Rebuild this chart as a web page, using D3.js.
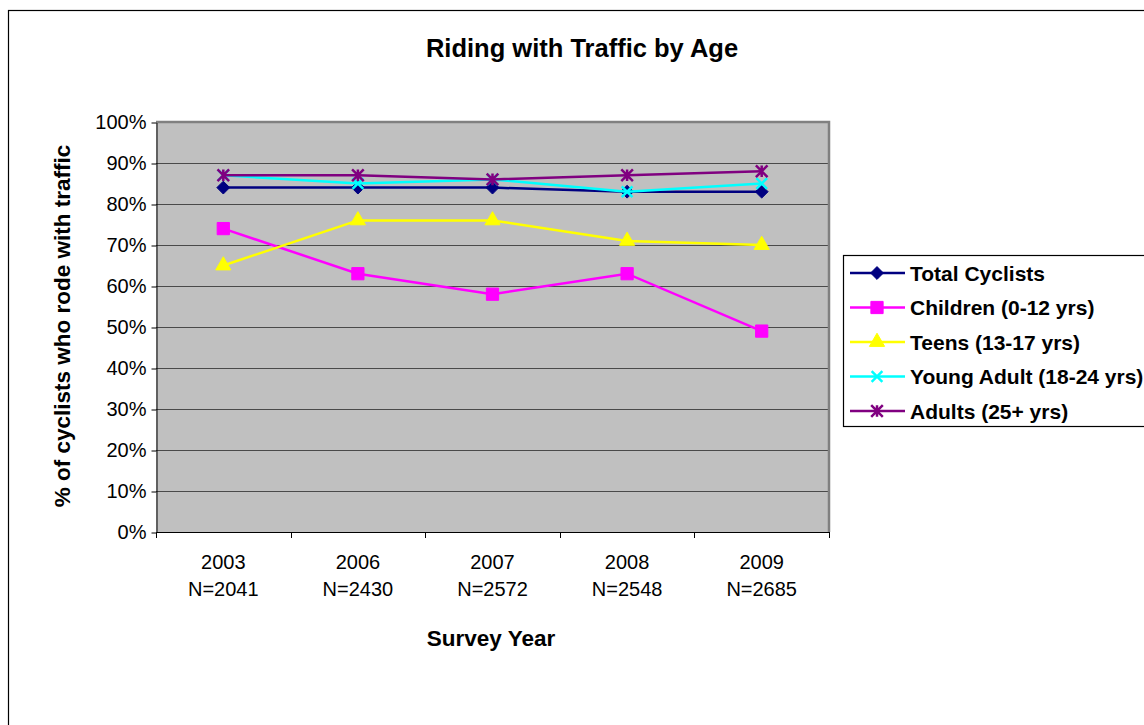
<!DOCTYPE html>
<html>
<head>
<meta charset="utf-8">
<script src="https://cdn.jsdelivr.net/npm/d3@7"></script>
<style>
  html, body { margin: 0; padding: 0; background: #fff; }
  svg { display: block; font-family: "Liberation Sans", Arial, sans-serif; }
</style>
</head>
<body>
<svg id="chart" width="1144" height="725"></svg>
<script>
// Survey years and sample sizes (x categories)
const years = ["2003", "2006", "2007", "2008", "2009"];
const sampleSizes = ["N=2041", "N=2430", "N=2572", "N=2548", "N=2685"];

// Share of cyclists riding with traffic, per group (percent)
const totalCyclists = [84, 84, 84, 83, 83];
const children = [74, 63, 58, 63, 49];
const teens = [65, 76, 76, 71, 70];
const youngAdults = [87, 85, 86, 83, 85];
const adults = [87, 87, 86, 87, 88];

// Y-axis ticks (percent)
const yTicks = [0, 10, 20, 30, 40, 50, 60, 70, 80, 90, 100];

const seriesNames = ["Total Cyclists", "Children (0-12 yrs)", "Teens (13-17 yrs)", "Young Adult (18-24 yrs)", "Adults (25+ yrs)"];
const seriesColors = ["#000080", "#FF00FF", "#FFFF00", "#00FFFF", "#800080"];
const seriesValues = [totalCyclists, children, teens, youngAdults, adults];

// Excel-style "star" marker: an X crossed by a vertical stroke
const symbolStar = {
  draw(ctx, size) {
    const r = Math.sqrt(size) / 2;
    ctx.moveTo(-r, -r); ctx.lineTo(r, r);
    ctx.moveTo(-r, r); ctx.lineTo(r, -r);
    ctx.moveTo(0, -r); ctx.lineTo(0, r);
  }
};
const symbolCross = {
  draw(ctx, size) {
    const r = Math.sqrt(size) / 2;
    ctx.moveTo(-r, -r); ctx.lineTo(r, r);
    ctx.moveTo(-r, r); ctx.lineTo(r, -r);
  }
};
const markers = [
  { type: d3.symbolDiamond2, size: 105, filled: true },
  { type: d3.symbolSquare, size: 150, filled: true },
  { type: d3.symbolTriangle, size: 100, filled: true },
  { type: symbolCross, size: 115, filled: false },
  { type: symbolStar, size: 135, filled: false }
];

const series = seriesNames.map((name, i) => ({
  name, color: seriesColors[i], marker: markers[i],
  points: years.map((y, j) => ({ year: y, value: seriesValues[i][j] }))
}));

const svg = d3.select("#chart");

// Outer chart frame
svg.append("rect")
  .attr("x", 8.5).attr("y", 10.5)
  .attr("width", 1160).attr("height", 740)
  .attr("fill", "#fff").attr("stroke", "#000").attr("stroke-width", 1.2);

const plot = { left: 156, right: 829, top: 122, bottom: 532 };

const x = d3.scaleBand().domain(years).range([plot.left, plot.right]).padding(0);
const y = d3.scaleLinear().domain([0, 100]).range([plot.bottom, plot.top]);
const cx = d => x(d) + x.bandwidth() / 2;

// Plot background
svg.append("rect")
  .attr("x", plot.left).attr("y", plot.top)
  .attr("width", plot.right - plot.left).attr("height", plot.bottom - plot.top)
  .attr("fill", "#C0C0C0");

// Horizontal gridlines
svg.append("g")
  .selectAll("line")
  .data(yTicks.filter(t => t > 0 && t < 100))
  .join("line")
  .attr("x1", plot.left).attr("x2", plot.right)
  .attr("y1", d => Math.round(y(d)) + 0.5).attr("y2", d => Math.round(y(d)) + 0.5)
  .attr("stroke", "#4a4a4a").attr("stroke-width", 1);

// Grey border on top and right of the plot area
svg.append("path")
  .attr("d", `M${plot.left},${plot.top} H${plot.right} V${plot.bottom}`)
  .attr("fill", "none").attr("stroke", "#808080").attr("stroke-width", 2.5);

// Y axis
const yAxis = d3.axisLeft(y)
  .tickValues(yTicks)
  .tickFormat(d => d + "%")
  .tickSize(5).tickSizeOuter(0).tickPadding(5);
const gy = svg.append("g")
  .attr("transform", `translate(${plot.left + 0.5},0.5)`)
  .call(yAxis);
gy.select(".domain").attr("stroke", "#000");
gy.selectAll(".tick line").attr("stroke", "#000");
gy.selectAll(".tick text")
  .attr("font-size", 20).attr("fill", "#000")
  .attr("font-family", "Liberation Sans, Arial, sans-serif");

// X axis: baseline, tick marks at category boundaries, two-line labels
const gx = svg.append("g");
gx.append("line")
  .attr("x1", plot.left).attr("x2", plot.right)
  .attr("y1", plot.bottom + 0.5).attr("y2", plot.bottom + 0.5)
  .attr("stroke", "#000");
const boundaries = years.map(d => x(d)).concat([x(years[years.length - 1]) + x.bandwidth()]);
gx.selectAll("line.tick")
  .data(boundaries)
  .join("line")
  .attr("class", "tick")
  .attr("x1", d => Math.round(d) + 0.5).attr("x2", d => Math.round(d) + 0.5)
  .attr("y1", plot.bottom).attr("y2", plot.bottom + 6)
  .attr("stroke", "#000");
const labels = gx.selectAll("text.cat")
  .data(years)
  .join("text")
  .attr("class", "cat")
  .attr("text-anchor", "middle")
  .attr("font-size", 20).attr("fill", "#000");
labels.append("tspan").attr("x", d => cx(d)).attr("y", 569).text(d => d);
labels.append("tspan").attr("x", d => cx(d)).attr("y", 596).text((d, i) => sampleSizes[i]);

// Titles
svg.append("text")
  .attr("x", 582).attr("y", 57)
  .attr("text-anchor", "middle")
  .attr("font-size", 25.5).attr("font-weight", "bold")
  .text("Riding with Traffic by Age");
svg.append("text")
  .attr("x", 491).attr("y", 646)
  .attr("text-anchor", "middle")
  .attr("font-size", 22.5).attr("font-weight", "bold")
  .text("Survey Year");
svg.append("text")
  .attr("transform", `translate(70,${(plot.top + plot.bottom) / 2 - 1}) rotate(-90)`)
  .attr("text-anchor", "middle")
  .attr("font-size", 22.5).attr("font-weight", "bold")
  .text("% of cyclists who rode with traffic");

// Series lines and markers
const line = d3.line().x(d => cx(d.year)).y(d => y(d.value));
const gSeries = svg.append("g")
  .selectAll("g")
  .data(series)
  .join("g");
gSeries.append("path")
  .attr("d", d => line(d.points))
  .attr("fill", "none")
  .attr("stroke", d => d.color)
  .attr("stroke-width", 2.5);
gSeries.each(function (s) {
  const sym = d3.symbol().type(s.marker.type).size(s.marker.size);
  d3.select(this).selectAll("path.marker")
    .data(s.points)
    .join("path")
    .attr("class", "marker")
    .attr("transform", d => `translate(${cx(d.year)},${y(d.value)})`)
    .attr("d", sym)
    .attr("fill", s.marker.filled ? s.color : "none")
    .attr("stroke", s.color)
    .attr("stroke-width", s.marker.filled ? 1 : 2.5);
});

// Legend
const legend = svg.append("g");
legend.append("rect")
  .attr("x", 843.5).attr("y", 255.5)
  .attr("width", 320).attr("height", 171)
  .attr("fill", "#fff").attr("stroke", "#000").attr("stroke-width", 1.2);
const items = legend.selectAll("g.item")
  .data(series)
  .join("g")
  .attr("class", "item")
  .attr("transform", (d, i) => `translate(0,${273 + i * 34.5})`);
items.append("line")
  .attr("x1", 850).attr("x2", 905)
  .attr("y1", 0).attr("y2", 0)
  .attr("stroke", d => d.color).attr("stroke-width", 2.5);
items.append("path")
  .attr("transform", "translate(877,0)")
  .attr("d", d => d3.symbol().type(d.marker.type).size(d.marker.size)())
  .attr("fill", d => d.marker.filled ? d.color : "none")
  .attr("stroke", d => d.color)
  .attr("stroke-width", d => d.marker.filled ? 1 : 2.5);
items.append("text")
  .attr("x", 910).attr("y", 7.5)
  .attr("font-size", 21).attr("font-weight", "bold")
  .text(d => d.name);
</script>
</body>
</html>
